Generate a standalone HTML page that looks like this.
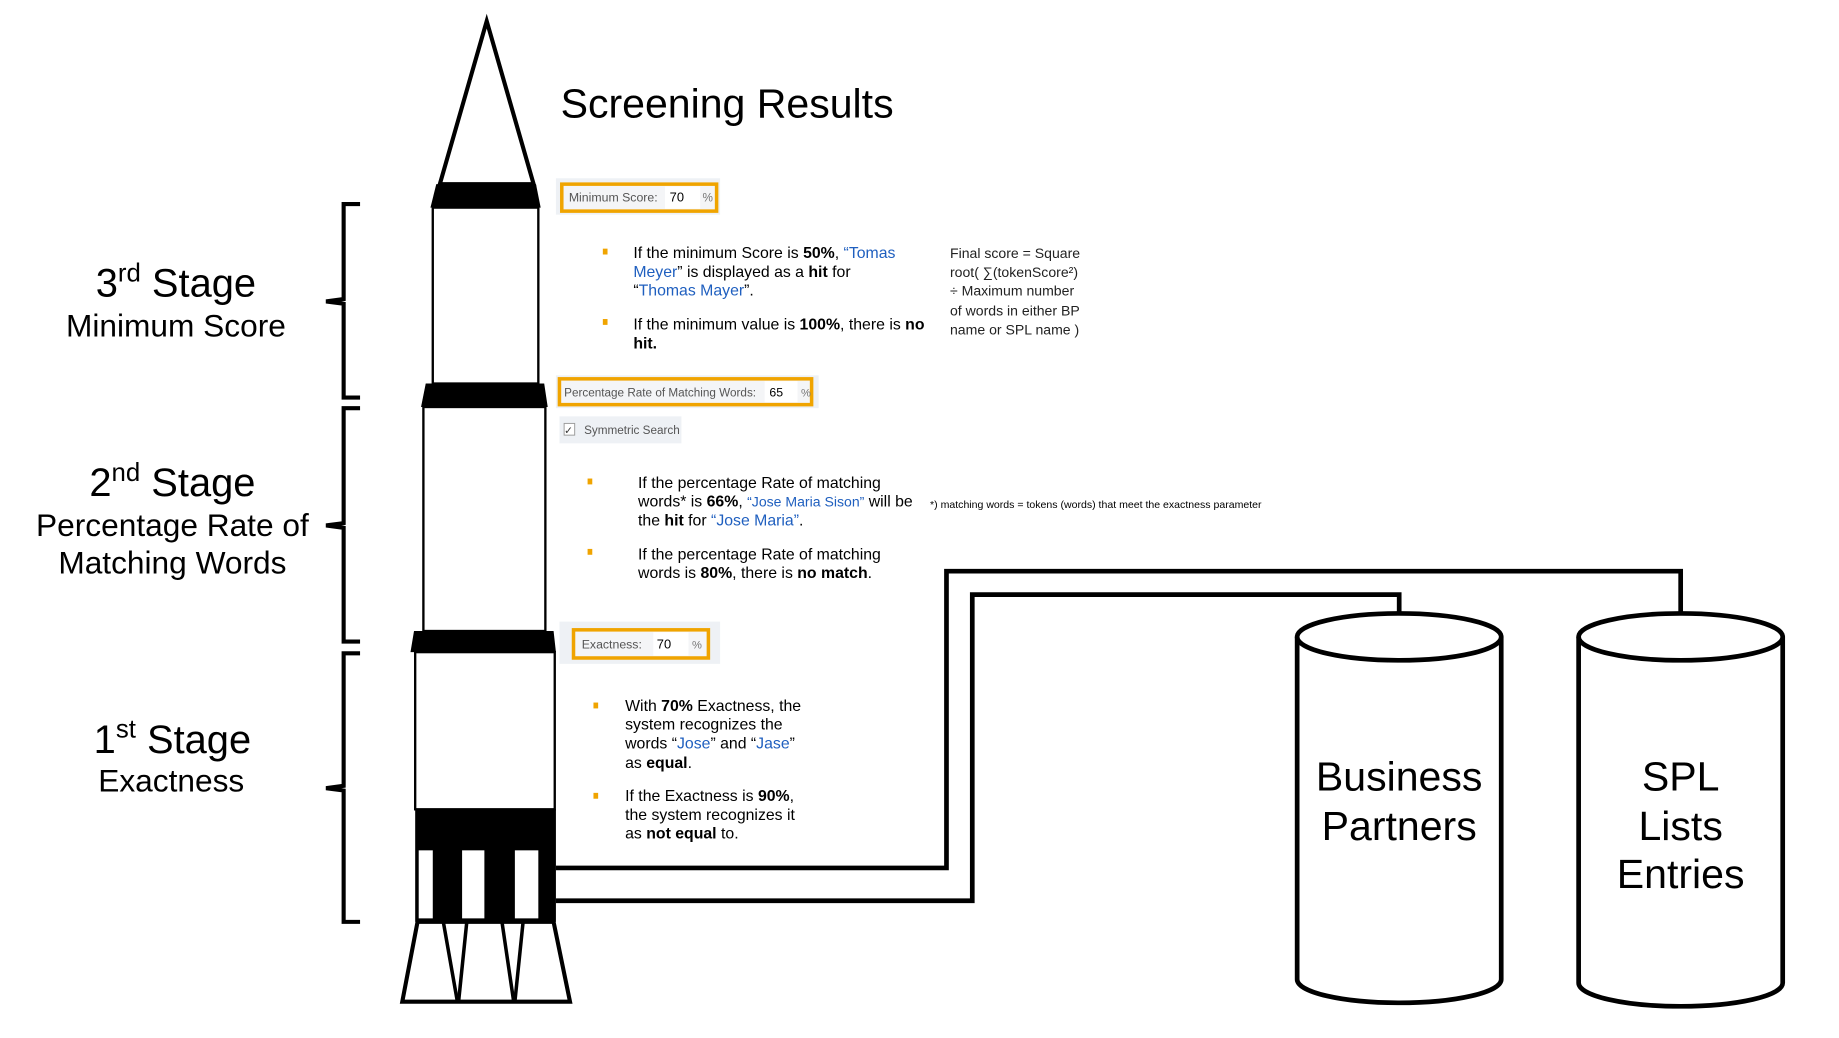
<!DOCTYPE html>
<html><head><meta charset="utf-8"><style>
html,body{margin:0;padding:0;background:#fff;}
svg{display:block;font-family:"Liberation Sans",Arial,sans-serif;}
</style></head><body>
<svg width="1839" height="1038" viewBox="0 0 1568 885" preserveAspectRatio="none" xmlns="http://www.w3.org/2000/svg">
<rect width="1568" height="885" fill="#fff"/>
<!-- rocket -->
<polygon points="415,18 375,157 455,157" fill="#fff" stroke="#000" stroke-width="3.5"/>
<polygon points="372,157 457,157 461,177 367,177" fill="#000"/>
<rect x="369" y="177" width="90" height="150" fill="#fff" stroke="#000" stroke-width="2"/>
<polygon points="363,327 464,327 467,347 359,347" fill="#000"/>
<rect x="361" y="347" width="104" height="191" fill="#fff" stroke="#000" stroke-width="2"/>
<polygon points="353,538 472,538 474,556 350,556" fill="#000"/>
<rect x="354" y="556" width="119" height="134" fill="#fff" stroke="#000" stroke-width="2"/>
<rect x="354" y="690" width="120" height="96" fill="#000"/>
<rect x="357" y="725" width="12" height="58" fill="#fff"/>
<rect x="394" y="725" width="19" height="58" fill="#fff"/>
<rect x="439" y="725" width="20" height="58" fill="#fff"/>
<polygon points="356,786 472,786 486,854 343,854" fill="#fff" stroke="#000" stroke-width="3.5"/>
<line x1="378" y1="786" x2="390" y2="854" stroke="#000" stroke-width="3"/>
<line x1="398" y1="786" x2="391" y2="854" stroke="#000" stroke-width="3"/>
<line x1="428" y1="786" x2="438" y2="854" stroke="#000" stroke-width="3"/>
<line x1="446" y1="786" x2="439" y2="854" stroke="#000" stroke-width="3"/>
<!-- braces -->
<g fill="none" stroke="#000" stroke-width="3.5">
<path d="M307,174 H293 V255 L278,257 L293,259 V339 H307"/>
<path d="M307,348 H293 V446 L278,448 L293,450 V547 H307"/>
<path d="M307,557 H293 V670 L278,672 L293,674 V786 H307"/>
</g>
<!-- left labels -->
<g text-anchor="middle" fill="#000">
<text x="150" y="253" font-size="34">3<tspan font-size="22" dy="-13">rd</tspan><tspan dy="13"> Stage</tspan></text>
<text x="150" y="287" font-size="27">Minimum Score</text>
<text x="147" y="423" font-size="34">2<tspan font-size="22" dy="-13">nd</tspan><tspan dy="13"> Stage</tspan></text>
<text x="147" y="457" font-size="27">Percentage Rate of</text>
<text x="147" y="489" font-size="27">Matching Words</text>
<text x="147" y="642" font-size="34">1<tspan font-size="22" dy="-13">st</tspan><tspan dy="13"> Stage</tspan></text>
<text x="146" y="675" font-size="27">Exactness</text>
</g>
<text x="478" y="100" font-size="35">Screening Results</text>
<!-- min score box -->
<rect x="474" y="152" width="140" height="31" fill="#eef1f5"/>
<rect x="479" y="157" width="132" height="23" fill="#f4f5f7" stroke="#f0a400" stroke-width="3"/>
<rect x="567" y="159" width="30" height="19" fill="#fff"/>
<text x="485" y="172" font-size="10.5" fill="#555">Minimum Score:</text>
<text x="571" y="172" font-size="11" fill="#000">70</text>
<text x="599" y="172" font-size="10" fill="#777">%</text>
<g font-size="13.5" fill="#000">
<rect x="514" y="212" width="4" height="5" fill="#f0a400"/>
<text x="540" y="220">If the minimum Score is <tspan font-weight="bold">50%</tspan>, <tspan fill="#1f5fbf">“Tomas</tspan></text>
<text x="540" y="236"><tspan fill="#1f5fbf">Meyer</tspan>” is displayed as a <tspan font-weight="bold">hit</tspan> for</text>
<text x="540" y="252">“<tspan fill="#1f5fbf">Thomas Mayer</tspan>”.</text>
<rect x="514" y="272" width="4" height="5" fill="#f0a400"/>
<text x="540" y="281">If the minimum value is <tspan font-weight="bold">100%</tspan>, there is <tspan font-weight="bold">no</tspan></text>
<text x="540" y="297" font-weight="bold">hit.</text>
</g>
<g font-size="12" fill="#222">
<text x="810" y="220">Final score = Square</text>
<text x="810" y="236">root(   ∑(tokenScore²)</text>
<text x="810" y="252">÷    Maximum number</text>
<text x="810" y="269">of  words in either BP</text>
<text x="810" y="285">name or SPL name  )</text>
</g>
<!-- percentage box -->
<rect x="474" y="320" width="224" height="28" fill="#eef1f5"/>
<rect x="477" y="323" width="215" height="22" fill="#f4f5f7" stroke="#f0a400" stroke-width="3"/>
<rect x="652" y="325" width="28" height="18" fill="#fff"/>
<text x="481" y="338" font-size="10" fill="#555">Percentage Rate of Matching Words:</text>
<text x="656" y="338" font-size="10.5" fill="#000">65</text>
<text x="683" y="338" font-size="9.5" fill="#777">%</text>
<rect x="477" y="355" width="104" height="23" fill="#eef1f5"/>
<rect x="481" y="361" width="9" height="10" fill="#fff" stroke="#999" stroke-width="0.8"/>
<text x="481" y="370" font-size="9" fill="#333">✓</text>
<text x="498" y="370" font-size="10" fill="#555">Symmetric Search</text>
<g font-size="13.5" fill="#000">
<rect x="501" y="408" width="4" height="5" fill="#f0a400"/>
<text x="544" y="416">If the percentage Rate of matching</text>
<text x="544" y="432">words* is <tspan font-weight="bold">66%</tspan>, <tspan fill="#1f5fbf" font-size="12">“Jose Maria Sison”</tspan> will be</text>
<text x="544" y="448">the <tspan font-weight="bold">hit</tspan> for <tspan fill="#1f5fbf">“Jose Maria”</tspan>.</text>
<rect x="501" y="468" width="4" height="5" fill="#f0a400"/>
<text x="544" y="477">If the percentage Rate of matching</text>
<text x="544" y="493">words is <tspan font-weight="bold">80%</tspan>, there is <tspan font-weight="bold">no match</tspan>.</text>
</g>
<text x="793" y="433" font-size="9" fill="#000">*) matching words = tokens (words) that meet the exactness parameter</text>
<!-- exactness box -->
<rect x="477" y="530" width="137" height="36" fill="#eef1f5"/>
<rect x="489" y="537" width="115" height="24" fill="#f4f5f7" stroke="#f0a400" stroke-width="3"/>
<rect x="557" y="539" width="30" height="20" fill="#fff"/>
<text x="496" y="553" font-size="10.5" fill="#555">Exactness:</text>
<text x="560" y="553" font-size="11" fill="#000">70</text>
<text x="590" y="553" font-size="9.5" fill="#777">%</text>
<g font-size="13.5" fill="#000">
<rect x="506" y="599" width="4" height="5" fill="#f0a400"/>
<text x="533" y="606">With <tspan font-weight="bold">70%</tspan> Exactness, the</text>
<text x="533" y="622">system recognizes the</text>
<text x="533" y="638">words “<tspan fill="#1f5fbf">Jose</tspan>” and “<tspan fill="#1f5fbf">Jase</tspan>”</text>
<text x="533" y="655">as <tspan font-weight="bold">equal</tspan>.</text>
<rect x="506" y="676" width="4" height="5" fill="#f0a400"/>
<text x="533" y="683">If the Exactness is <tspan font-weight="bold">90%</tspan>,</text>
<text x="533" y="699">the system recognizes it</text>
<text x="533" y="715">as <tspan font-weight="bold">not equal</tspan> to.</text>
</g>
<!-- connectors -->
<g fill="none" stroke="#000" stroke-width="4">
<path d="M474,740 H807 V487 H1433 V522"/>
<path d="M474,768 H829 V507 H1193 V524"/>
</g>
<!-- cylinders -->
<g fill="#fff" stroke="#000" stroke-width="4">
<path d="M1106,543 V835 A87,20 0 0 0 1280,835 V543"/>
<ellipse cx="1193" cy="543" rx="87" ry="20"/>
<path d="M1346,543 V838 A87,20 0 0 0 1520,838 V543"/>
<ellipse cx="1433" cy="543" rx="87" ry="20"/>
</g>
<g text-anchor="middle" font-size="35" fill="#000">
<text x="1193" y="674">Business</text>
<text x="1193" y="716">Partners</text>
<text x="1433" y="674">SPL</text>
<text x="1433" y="716">Lists</text>
<text x="1433" y="757">Entries</text>
</g>
</svg>
</body></html>
